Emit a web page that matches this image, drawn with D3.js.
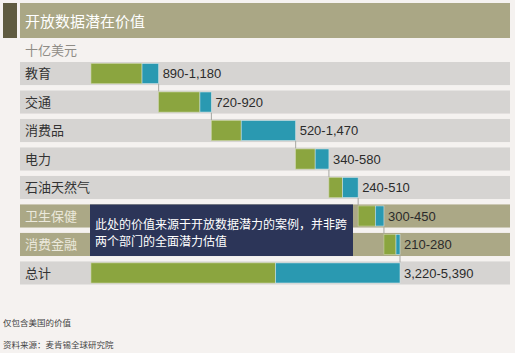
<!DOCTYPE html>
<html>
<head>
<meta charset="utf-8">
<script src="https://cdn.jsdelivr.net/npm/d3@7"></script>
<style>
  body { margin: 0; background: #f5f2f0; }
  svg { display: block; }
</style>
</head>
<body>
<svg id="chart" width="515" height="353"></svg>
<script>
// Data (billion USD, low-high range per sector)
const categories = ["教育", "交通", "消费品", "电力", "石油天然气", "卫生保健", "消费金融", "总计"];
const lowValues = [890, 720, 520, 340, 240, 300, 210, 3220];
const highValues = [1180, 920, 1470, 580, 510, 450, 280, 5390];
const valueLabels = ["890-1,180", "720-920", "520-1,470", "340-580", "240-510", "300-450", "210-280", "3,220-5,390"];
const highlighted = ["卫生保健", "消费金融"];

const cjk = "'Noto Sans CJK SC', sans-serif";
const svg = d3.select("#chart");

// Build waterfall rows: each sector starts where the previous high ended
let running = 0;
const rows = categories.map((c, i) => {
    const isTotal = c === "总计";
    const start = isTotal ? 0 : running;
    if (!isTotal) running += highValues[i];
    return { name: c, start: start, low: lowValues[i], high: highValues[i], label: valueLabels[i], total: isTotal };
});

// Scales
const x = d3.scaleLinear().domain([0, d3.max(highValues)]).range([91, 400]);
const y = d3.scaleBand().domain(categories).range([62, 284.5]).paddingInner(0.19).paddingOuter(0);

// Header
svg.append("rect").attr("x", 3).attr("y", 3).attr("width", 14).attr("height", 35).attr("fill", "#5f5b40");
svg.append("rect").attr("x", 20).attr("y", 3).attr("width", 490).attr("height", 35).attr("fill", "#aaa785");
svg.append("text").attr("x", 25).attr("y", 26.5).text("开放数据潜在价值")
    .style("font-family", cjk).style("font-size", "15px").style("fill", "#fff");
svg.append("text").attr("x", 25).attr("y", 55).text("十亿美元")
    .style("font-family", cjk).style("font-size", "13px").style("fill", "#8f8c86");

// Row backgrounds
svg.selectAll(".row-bg")
    .data(rows)
    .enter().append("rect")
    .attr("class", "row-bg")
    .attr("x", 20)
    .attr("y", d => y(d.name))
    .attr("width", 490)
    .attr("height", y.bandwidth())
    .attr("fill", d => highlighted.includes(d.name) ? "#aba886" : "#d6d4d2");

// Row labels
svg.selectAll(".row-label")
    .data(rows)
    .enter().append("text")
    .attr("class", "row-label")
    .attr("x", 25)
    .attr("y", d => y(d.name) + y.bandwidth() / 2)
    .attr("dy", "0.36em")
    .text(d => d.name)
    .style("font-family", cjk)
    .style("font-size", "13px")
    .style("fill", d => highlighted.includes(d.name) ? "#ebe9dc" : "#333");

// Connector lines between consecutive sectors
svg.selectAll(".connector")
    .data(rows.slice(0, -1))
    .enter().append("line")
    .attr("class", "connector")
    .attr("x1", d => x(d.start + d.high))
    .attr("x2", d => x(d.start + d.high))
    .attr("y1", d => y(d.name) + y.bandwidth() - 1)
    .attr("y2", (d, i) => y(rows[i + 1].name) + 1)
    .attr("stroke", "#a6a6a0")
    .attr("stroke-width", 1);

// Annotation box over healthcare / consumer finance
const boxTop = y("卫生保健");
const boxBottom = y("消费金融") + y.bandwidth();
svg.append("rect")
    .attr("x", 90).attr("y", boxTop)
    .attr("width", 263).attr("height", boxBottom - boxTop)
    .attr("fill", "#2c3558");
svg.append("text").attr("x", 95).attr("y", boxTop + 24.5)
    .text("此处的价值来源于开放数据潜力的案例，并非跨")
    .style("font-family", cjk).style("font-size", "12px").style("fill", "#fff");
svg.append("text").attr("x", 95).attr("y", boxTop + 41.5)
    .text("两个部门的全面潜力估值")
    .style("font-family", cjk).style("font-size", "12px").style("fill", "#fff");

// Bars: low part (green) and range up to high (blue)
const barInset = 1.5;
svg.selectAll(".bar-low")
    .data(rows)
    .enter().append("rect")
    .attr("class", "bar-low")
    .attr("x", d => x(d.start))
    .attr("y", d => y(d.name) + barInset)
    .attr("width", d => x(d.start + d.low) - x(d.start))
    .attr("height", y.bandwidth() - 2 * barInset)
    .attr("fill", "#8ba53f")
    .attr("stroke", "#c9d4a0")
    .attr("stroke-width", 0.6);

svg.selectAll(".bar-high")
    .data(rows)
    .enter().append("rect")
    .attr("class", "bar-high")
    .attr("x", d => x(d.start + d.low))
    .attr("y", d => y(d.name) + barInset)
    .attr("width", d => x(d.start + d.high) - x(d.start + d.low))
    .attr("height", y.bandwidth() - 2 * barInset)
    .attr("fill", "#2a99b1")
    .attr("stroke", "#cfe3e6")
    .attr("stroke-width", 0.6);

// Value labels
svg.selectAll(".value")
    .data(rows)
    .enter().append("text")
    .attr("class", "value")
    .attr("x", d => x(d.start + d.high) + 4)
    .attr("y", d => y(d.name) + y.bandwidth() / 2)
    .attr("dy", "0.36em")
    .text(d => d.label)
    .style("font-family", "'Liberation Sans', Arial, sans-serif")
    .style("font-size", "13px")
    .style("fill", "#2b2b2b");

// Footnotes
svg.append("text").attr("x", 3).attr("y", 326).text("仅包含美国的价值")
    .style("font-family", cjk).style("font-size", "8.5px").style("fill", "#444");
svg.append("text").attr("x", 3).attr("y", 348).text("资料来源：麦肯锡全球研究院")
    .style("font-family", cjk).style("font-size", "8.5px").style("fill", "#444");
</script>
</body>
</html>
